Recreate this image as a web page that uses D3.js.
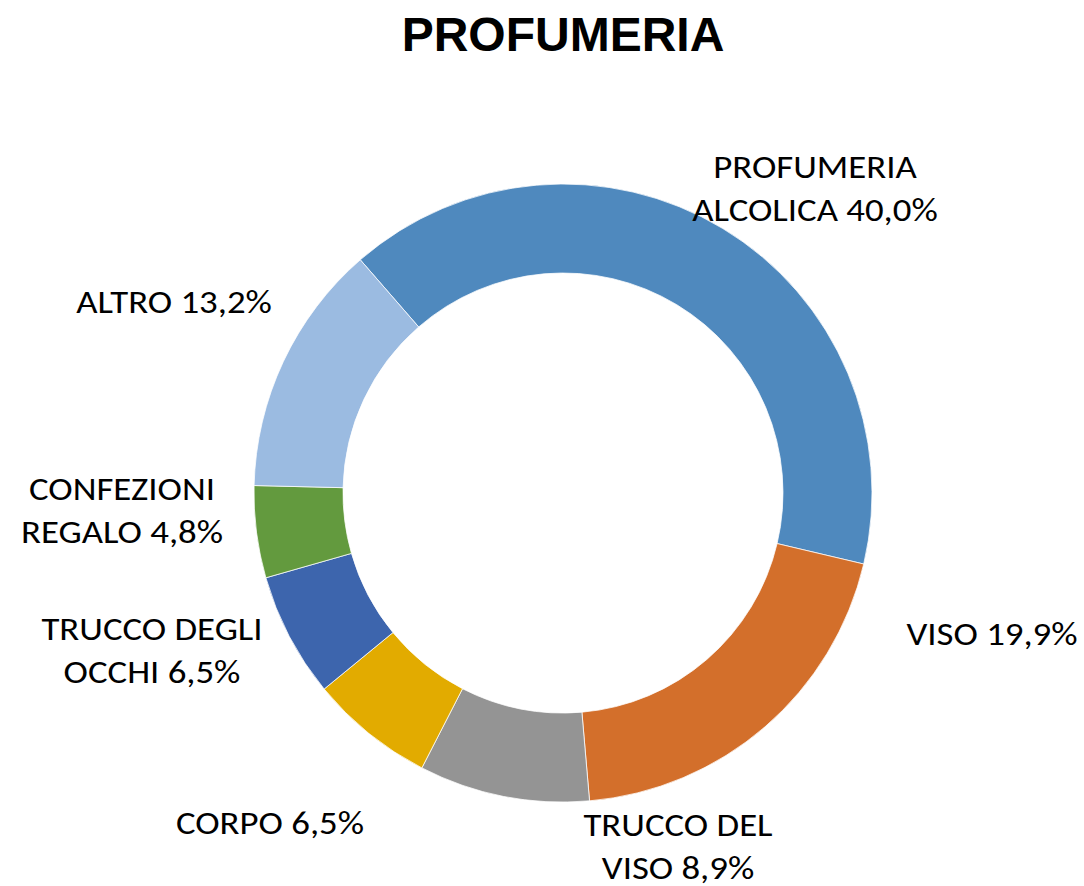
<!DOCTYPE html>
<html>
<head>
<meta charset="utf-8">
<script src="https://cdn.jsdelivr.net/npm/d3@7"></script>
<style>
  body { margin: 0; background: #fff; }
</style>
</head>
<body>
<div id="chart"></div>
<script>
var categories = ["PROFUMERIA ALCOLICA", "VISO", "TRUCCO DEL VISO", "CORPO", "TRUCCO DEGLI OCCHI", "CONFEZIONI REGALO", "ALTRO"];
var values = [40.0, 19.9, 8.9, 6.5, 6.5, 4.8, 13.2];
var labelLines = [
    ["PROFUMERIA", "ALCOLICA 40,0%"],
    ["VISO 19,9%"],
    ["TRUCCO DEL", "VISO 8,9%"],
    ["CORPO 6,5%"],
    ["TRUCCO DEGLI", "OCCHI 6,5%"],
    ["CONFEZIONI", "REGALO 4,8%"],
    ["ALTRO 13,2%"]
];
var colors = ["#4f89be", "#d36f2b", "#949494", "#e2ab00", "#3d65ad", "#639a3e", "#9bbbe1"];

var width = 1084, height = 886;
var cx = 563, cy = 493;
var outerR = 309, innerR = 220;
var startDeg = -41;

// where excel put each label (centre of the first line baseline)
var labelAnchor = [[815, 178], [992, 645], [678, 836], [270, 834], [152, 640], [122, 500], [174, 313]];
var lineH = 43;

var svg = d3.select("#chart").append("svg")
    .attr("width", width)
    .attr("height", height);

svg.append("text")
    .attr("x", cx)
    .attr("y", 51)
    .attr("text-anchor", "middle")
    .style("font-family", "'Liberation Sans', Arial, sans-serif")
    .style("font-weight", "bold")
    .style("font-size", "48px")
    .text("PROFUMERIA");

var pie = d3.pie()
    .sort(null)
    .value(function(d) { return d; })
    .startAngle(startDeg * Math.PI / 180)
    .endAngle((startDeg + 360) * Math.PI / 180);

var arc = d3.arc().innerRadius(innerR).outerRadius(outerR);

var g = svg.append("g").attr("transform", "translate(" + cx + "," + cy + ")");

g.selectAll("path")
    .data(pie(values))
    .enter().append("path")
    .attr("d", arc)
    .attr("fill", function(d, i) { return colors[i]; })
    .attr("stroke", "#fff")
    .attr("stroke-width", 0.75);

// Lato is a bit narrow next to Calibri, so stretch it sideways
var labels = svg.append("g")
    .selectAll("text")
    .data(categories)
    .enter().append("text")
    .attr("text-anchor", "middle")
    .attr("transform", function(d, i) {
        return "translate(" + labelAnchor[i][0] + "," + labelAnchor[i][1] + ") scale(1.15,1)";
    })
    .style("font-family", "Carlito, Lato, 'Open Sans', sans-serif")
    .style("font-size", "32px")
    .attr("fill", "#000");

labels.each(function(d, i) {
    var t = d3.select(this);
    labelLines[i].forEach(function(line, j) {
        t.append("tspan")
            .attr("x", 0)
            .attr("y", j * lineH)
            .text(line);
    });
});
</script>
</body>
</html>
